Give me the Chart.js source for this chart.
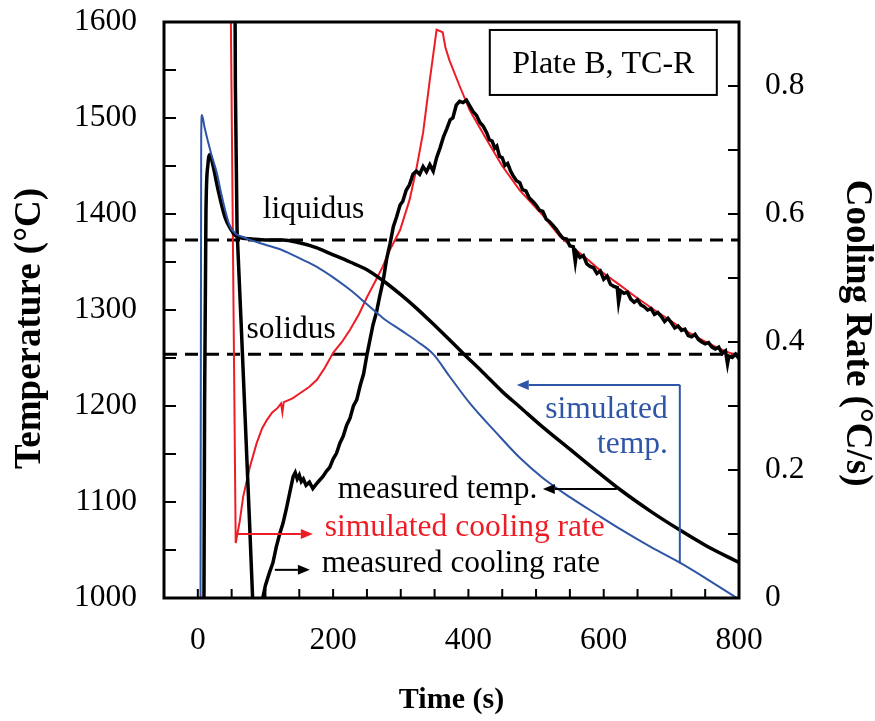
<!DOCTYPE html>
<html>
<head>
<meta charset="utf-8">
<script src="https://cdn.jsdelivr.net/npm/chart.js@4.4.1/dist/chart.umd.min.js"></script>
<style>
html,body{margin:0;padding:0;background:#fff;}
#wrap{width:875px;height:721px;}
</style>
</head>
<body>
<div id="wrap"><canvas id="c" width="875" height="721"></canvas></div>
<script>
// ---------- DATA ----------
const xTickLabels = [0, 200, 400, 600, 800];
const yTickLabels = [1000, 1100, 1200, 1300, 1400, 1500, 1600];
const y1TickLabels = [0, 0.2, 0.4, 0.6, 0.8];

const liquidusT = 1373;
const solidusT = 1254;

// measured temperature (°C)
const tMeasTemp = [9, 10, 12, 15, 18, 22, 30, 40, 48, 55, 65, 80, 100, 126, 150, 175, 195, 225, 250, 273, 300, 323, 350, 372, 392, 420, 450, 476, 510, 550, 590, 624, 670, 712, 750, 800];
const measTemp  = [980, 1200, 1400, 1452, 1462, 1452, 1425, 1397, 1385, 1378, 1375, 1374, 1373, 1373, 1370, 1365, 1359, 1350, 1342, 1331, 1316, 1302, 1284, 1269, 1255, 1236, 1215, 1199, 1178, 1155, 1132, 1113, 1090, 1071, 1055, 1037];

// simulated temperature (°C)
const tSimTemp = [4, 5, 6, 10, 20, 28, 35, 47, 57, 67, 77, 100, 126, 150, 176, 200, 225, 250, 273, 300, 325, 348, 372, 402, 440, 476, 510, 550, 590, 624, 670, 712, 752, 797];
const simTemp  = [990, 1480, 1503, 1490, 1462, 1443, 1420, 1388, 1379, 1376, 1373, 1368, 1362, 1354, 1345, 1334, 1321, 1306, 1292, 1279, 1267, 1254, 1231, 1203, 1173, 1146, 1125, 1105, 1087, 1072, 1053, 1037, 1020, 1000];

// simulated cooling rate (°C/s)
const tSimRate = [48, 56, 62, 67, 77, 87, 95, 102, 110, 118, 123, 125, 127, 140, 151, 165, 176, 188, 200, 213, 225, 238, 250, 262, 273, 284, 299, 313, 323, 333, 343, 353, 362, 366, 372, 387, 402, 427, 450, 476, 510, 535, 554, 575, 599, 625, 648, 675, 698, 720, 746, 770, 798];
const simRate  = [1.0, 0.086, 0.12, 0.158, 0.205, 0.242, 0.265, 0.278, 0.29, 0.297, 0.304, 0.29, 0.306, 0.312, 0.32, 0.33, 0.341, 0.36, 0.383, 0.40, 0.419, 0.443, 0.47, 0.494, 0.517, 0.544, 0.575, 0.622, 0.67, 0.727, 0.81, 0.888, 0.884, 0.86, 0.84, 0.80, 0.762, 0.716, 0.675, 0.637, 0.598, 0.565, 0.548, 0.53, 0.508, 0.488, 0.47, 0.45, 0.434, 0.418, 0.403, 0.39, 0.378];

// measured cooling rate (°C/s)
const tMeasRate = [54, 55.5, 58, 64, 70, 76, 81, 86, 92, 96, 100, 106, 111, 116, 121, 126, 131, 136, 141, 144, 147, 150, 153, 156, 160, 165, 170, 175, 180, 185, 190, 195, 200, 205, 210, 215, 220, 225, 230, 235, 240, 245, 250, 254, 259, 264, 269, 274, 279, 284, 289, 294, 299, 303, 308, 313, 318, 323, 328, 333, 338, 343, 348, 353, 358, 363, 368, 373, 377, 382, 387, 392, 397, 402, 407, 412, 417, 422, 427, 431, 435, 439, 442, 446, 450, 454, 458, 462, 466, 471, 476, 480, 485, 490, 495, 500, 505, 510, 515, 520, 525, 530, 535, 540, 545, 550, 555, 558, 560, 565, 570, 575, 580, 585, 590, 595, 600, 605, 610, 615, 620, 622, 625, 630, 635, 640, 645, 650, 655, 660, 665, 670, 675, 680, 685, 690, 695, 700, 705, 710, 715, 720, 725, 730, 735, 740, 745, 750, 755, 760, 765, 770, 775, 780, 783, 785, 790, 795, 800];
const measRate  = [1.2, 0.8, 0.575, 0.43, 0.28, 0.13, 0.0, -0.06, -0.05, 0.0, 0.02, 0.04, 0.055, 0.08, 0.10, 0.117, 0.14, 0.165, 0.19, 0.196, 0.186, 0.192, 0.182, 0.186, 0.176, 0.181, 0.171, 0.178, 0.184, 0.19, 0.198, 0.204, 0.217, 0.226, 0.242, 0.253, 0.27, 0.281, 0.3, 0.31, 0.332, 0.35, 0.38, 0.401, 0.427, 0.446, 0.472, 0.496, 0.529, 0.553, 0.58, 0.596, 0.614, 0.62, 0.637, 0.646, 0.662, 0.667, 0.662, 0.674, 0.666, 0.677, 0.667, 0.688, 0.703, 0.72, 0.733, 0.747, 0.75, 0.77, 0.776, 0.774, 0.778, 0.769, 0.76, 0.754, 0.743, 0.737, 0.727, 0.716, 0.714, 0.703, 0.706, 0.69, 0.688, 0.676, 0.679, 0.668, 0.66, 0.652, 0.649, 0.638, 0.636, 0.625, 0.62, 0.614, 0.606, 0.604, 0.592, 0.588, 0.582, 0.576, 0.568, 0.562, 0.561, 0.55, 0.549, 0.525, 0.54, 0.532, 0.535, 0.522, 0.518, 0.516, 0.507, 0.511, 0.498, 0.503, 0.49, 0.487, 0.485, 0.462, 0.48, 0.476, 0.478, 0.467, 0.462, 0.466, 0.458, 0.455, 0.45, 0.452, 0.443, 0.446, 0.44, 0.432, 0.437, 0.43, 0.422, 0.425, 0.418, 0.42, 0.41, 0.408, 0.412, 0.404, 0.4, 0.397, 0.399, 0.392, 0.389, 0.392, 0.382, 0.386, 0.366, 0.378, 0.376, 0.381, 0.374];

// ---------- CHART ----------
const SERIF = '"Liberation Serif", "Times New Roman", serif';
const RED = '#ee1c25';
const BLUE = '#2f55a6';

function pts(xs, ys) { return xs.map((x, i) => ({x: x, y: ys[i]})); }

const annotPlugin = {
  id: 'annot',
  beforeDatasetsDraw(chart) {
    const {ctx, chartArea: a, scales} = chart;
    ctx.save();
    ctx.strokeStyle = '#000';
    ctx.lineWidth = 3;
    ctx.setLineDash([13, 8]);
    [liquidusT, solidusT].forEach(v => {
      const y = scales.y.getPixelForValue(v);
      ctx.beginPath(); ctx.moveTo(a.left, y); ctx.lineTo(a.right, y); ctx.stroke();
    });
    ctx.restore();
  },
  afterDatasetsDraw(chart) {
    const {ctx, chartArea: a, scales} = chart;
    const X = v => scales.x.getPixelForValue(v);
    const Y = v => scales.y.getPixelForValue(v);
    const R = v => scales.y1.getPixelForValue(v);
    ctx.save();
    // frame
    ctx.setLineDash([]);
    ctx.strokeStyle = '#000';
    ctx.lineWidth = 3;
    ctx.strokeRect(a.left, a.top, a.right - a.left, a.bottom - a.top);
    // inward ticks
    ctx.lineWidth = 2;
    scales.x.ticks.forEach(t => {
      const px = X(t.value);
      if (px <= a.left + 2 || px >= a.right - 2) return;
      ctx.beginPath(); ctx.moveTo(px, a.bottom); ctx.lineTo(px, a.bottom - 9); ctx.stroke();
    });
    scales.y.ticks.forEach(t => {
      const py = Y(t.value);
      if (py <= a.top + 2 || py >= a.bottom - 2) return;
      ctx.beginPath(); ctx.moveTo(a.left, py); ctx.lineTo(a.left + 12, py); ctx.stroke();
    });
    scales.y1.ticks.forEach(t => {
      const py = R(t.value);
      if (py <= a.top + 2 || py >= a.bottom - 2) return;
      ctx.beginPath(); ctx.moveTo(a.right, py); ctx.lineTo(a.right - 11, py); ctx.stroke();
    });

    // texts
    ctx.font = '31.5px ' + SERIF;
    ctx.textBaseline = 'alphabetic';
    ctx.fillStyle = '#000';
    ctx.textAlign = 'left';
    ctx.fillText('liquidus', X(96), Y(1396));
    ctx.fillText('solidus', X(72), Y(1271));

    // plate box
    ctx.lineWidth = 2;
    const bx0 = X(431.6), bx1 = X(767.2), by0 = Y(1591.7), by1 = Y(1524);
    ctx.fillStyle = '#fff';
    ctx.fillRect(bx0, by0, bx1 - bx0, by1 - by0);
    ctx.strokeRect(bx0, by0, bx1 - bx0, by1 - by0);
    ctx.fillStyle = '#000';
    ctx.textAlign = 'center';
    ctx.font = '32px ' + SERIF;
    ctx.fillText('Plate B, TC-R', (bx0 + bx1) / 2, Y(1547));

    function arrow(x0, y0, x1, y1, color) {
      ctx.strokeStyle = color; ctx.fillStyle = color; ctx.lineWidth = 2;
      const ang = Math.atan2(y1 - y0, x1 - x0);
      const hl = 12, hw = 5;
      const bx = x1 - hl * Math.cos(ang), by = y1 - hl * Math.sin(ang);
      ctx.beginPath(); ctx.moveTo(x0, y0); ctx.lineTo(bx, by); ctx.stroke();
      ctx.beginPath();
      ctx.moveTo(x1, y1);
      ctx.lineTo(bx + hw * Math.sin(ang), by - hw * Math.cos(ang));
      ctx.lineTo(bx - hw * Math.sin(ang), by + hw * Math.cos(ang));
      ctx.closePath(); ctx.fill();
    }

    // simulated temp label + bracket arrow
    ctx.font = '31.5px ' + SERIF;
    ctx.textAlign = 'right';
    ctx.fillStyle = BLUE;
    ctx.fillText('simulated', X(694.8), Y(1187.5));
    ctx.fillText('temp.', X(694.8), Y(1151));
    ctx.strokeStyle = BLUE; ctx.lineWidth = 2;
    ctx.beginPath(); ctx.moveTo(X(712.5), Y(1036)); ctx.lineTo(X(712.5), Y(1222)); ctx.stroke();
    arrow(X(712.5), Y(1222), X(471.5), Y(1222), BLUE);

    // measured temp
    ctx.textAlign = 'left';
    ctx.fillStyle = '#000';
    ctx.fillText('measured temp.', X(207), Y(1104));
    arrow(X(619.4), Y(1113.5), X(510), Y(1113.5), '#000');

    // simulated cooling rate
    ctx.fillStyle = RED;
    ctx.fillText('simulated cooling rate', X(187.7), R(0.097));
    arrow(X(56.2), R(0.10), X(170), R(0.10), RED);

    // measured cooling rate
    ctx.fillStyle = '#000';
    ctx.fillText('measured cooling rate', X(183.3), R(0.0406));
    arrow(X(113.8), R(0.044), X(165.6), R(0.044), '#000');

    ctx.restore();
  }
};

const tickFont = {family: SERIF, size: 31.5};
const titleFontH = {family: SERIF, size: 30, weight: 'bold', lineHeight: 1};
const titleFontV = {family: SERIF, size: 37, weight: 'bold', lineHeight: 1};

function noPadV(s, w) { s.width = w; s.paddingTop = 0; s.paddingBottom = 0; }

new Chart(document.getElementById('c'), {
  type: 'line',
  data: {
    datasets: [
      {label: 'simulated temp.', data: pts(tSimTemp, simTemp), yAxisID: 'y', borderColor: BLUE, borderWidth: 2, pointRadius: 0, cubicInterpolationMode: 'monotone'},
      {label: 'measured temp.', data: pts(tMeasTemp, measTemp), yAxisID: 'y', borderColor: '#000', borderWidth: 3.5, pointRadius: 0, cubicInterpolationMode: 'monotone'},
      {label: 'measured cooling rate', data: pts(tMeasRate, measRate), yAxisID: 'y1', borderColor: '#000', borderWidth: 3.5, pointRadius: 0, tension: 0},
      {label: 'simulated cooling rate', data: pts(tSimRate, simRate), yAxisID: 'y1', borderColor: RED, borderWidth: 2, pointRadius: 0, tension: 0}
    ]
  },
  options: {
    responsive: false,
    animation: false,
    devicePixelRatio: 1,
    layout: {padding: {top: 22, left: 0, right: 0, bottom: 0}},
    plugins: {legend: {display: false}, tooltip: {enabled: false}},
    scales: {
      x: {
        type: 'linear', position: 'bottom', min: -50, max: 800,
        grid: {display: false, drawTicks: false}, border: {display: false},
        ticks: {
          stepSize: 50, autoSkip: false, maxRotation: 0, padding: 24, color: '#000', font: tickFont,
          callback: v => xTickLabels.includes(v) ? String(v) : ''
        },
        title: {display: true, text: 'Time (s)', color: '#000', font: titleFontH, padding: {top: 0, bottom: 6}},
        afterFit: s => { s.height = 123; s.paddingLeft = 0; s.paddingRight = 0; }
      },
      y: {
        type: 'linear', position: 'left', min: 1000, max: 1600,
        grid: {display: false, drawTicks: false}, border: {display: false},
        ticks: {
          stepSize: 50, autoSkip: false, padding: 27, color: '#000', font: tickFont,
          callback: v => yTickLabels.includes(v) ? String(v) : ''
        },
        title: {display: true, text: 'Temperature (°C)    ', color: '#000', font: titleFontV, padding: {top: 12, bottom: 0}},
        afterFit: s => noPadV(s, 164)
      },
      y1: {
        type: 'linear', position: 'right', min: 0, max: 0.9,
        grid: {display: false, drawTicks: false}, border: {display: false},
        ticks: {
          stepSize: 0.1, autoSkip: false, padding: 26, color: '#000', font: tickFont,
          callback: v => {
            const r = Math.round(v * 10) / 10;
            const hit = y1TickLabels.some(l => Math.abs(l - r) < 1e-9);
            return hit ? (r === 0 ? '0' : r.toFixed(1)) : '';
          }
        },
        title: {display: true, text: '     Cooling Rate (°C/s)', color: '#000', font: titleFontV, padding: {top: 0, bottom: 0}},
        afterFit: s => noPadV(s, 136)
      }
    }
  },
  plugins: [annotPlugin]
});
</script>
</body>
</html>
